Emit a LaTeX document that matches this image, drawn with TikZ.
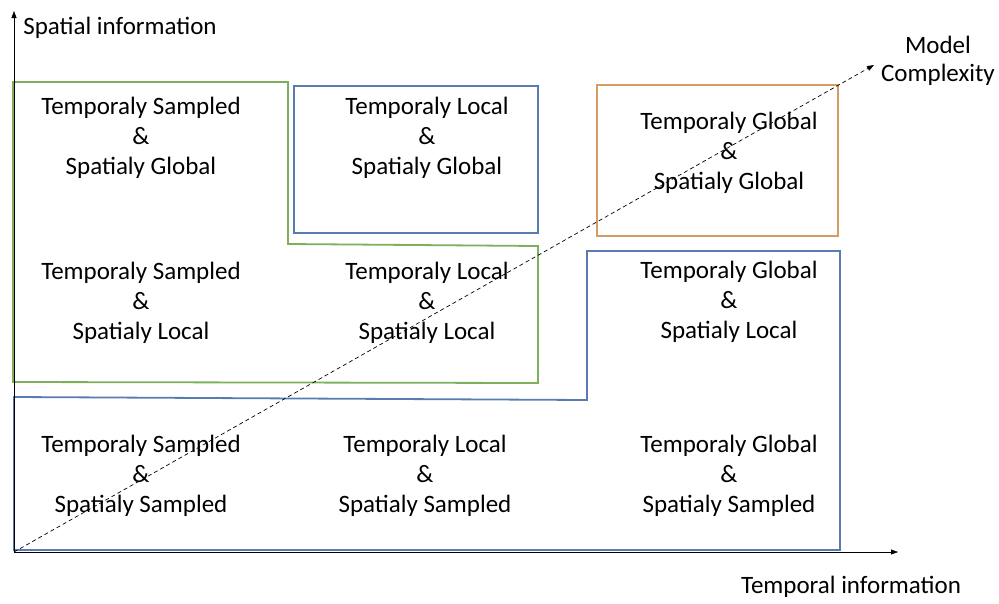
\documentclass[tikz,border=0pt]{standalone}
\usepackage{fontspec}
\setmainfont{Carlito}
\usetikzlibrary{arrows.meta}
\definecolor{zonegreen}{RGB}{125,176,92}
\definecolor{zoneblue}{RGB}{88,124,178}
\definecolor{zoneorange}{RGB}{214,156,100}
\begin{document}
\begin{tikzpicture}[x=1pt,y=-1pt,
    cell/.style ={align=center, font=\fontsize{25}{30}\selectfont, inner sep=0pt},
    axislabel/.style ={align=center, font=\fontsize{25}{28}\selectfont, inner sep=0pt},
    zone/.style ={line width=1.8pt, line join=miter}]
   \useasboundingbox (0,0) rectangle (999,603);

   % zones
   \draw[zone, zonegreen] (13,82) -- (288,82) -- (288,244) -- (538,246) -- (538,383) -- (13,382) -- cycle;
   \draw[zone, zoneblue] (294,86) rectangle (538,233);
   \draw[zone, zoneorange] (597,85) rectangle (838,236);
   \draw[zone, zoneblue] (14,397) -- (587,400) -- (587,251) -- (840,251) -- (840,550) -- (14,550) -- cycle;

   % cells
   \node[cell] (TS-SG) at (141,138) {Temporaly Sampled\\\&\\Spatialy Global};
   \node[cell] (TL-SG) at (427,138) {Temporaly Local\\\&\\Spatialy Global};
   \node[cell] (TG-SG) at (729,153) {Temporaly Global\\\&\\Spatialy Global};
   \node[cell] (TS-SL) at (141,303) {Temporaly Sampled\\\&\\Spatialy Local};
   \node[cell] (TL-SL) at (427,303) {Temporaly Local\\\&\\Spatialy Local};
   \node[cell] (TG-SL) at (729,302) {Temporaly Global\\\&\\Spatialy Local};
   \node[cell] (TS-SS) at (141,476) {Temporaly Sampled\\\&\\Spatialy Sampled};
   \node[cell] (TL-SS) at (425,476) {Temporaly Local\\\&\\Spatialy Sampled};
   \node[cell] (TG-SS) at (729,476) {Temporaly Global\\\&\\Spatialy Sampled};

   % axes
   \coordinate (origin) at (14,552);
   \coordinate (spatialtip) at (14,11);
   \coordinate (temporaltip) at (898,552);
   \coordinate (complexitytip) at (874,65);
   \node[axislabel] (spatial) at (120,28) {Spatial information};
   \node[axislabel] (temporal) at (851,587) {Temporal information};
   \node[axislabel] (complexity) at (938,61) {Model\\Complexity};

   \draw[-{Triangle[length=7pt,width=5pt]}] (origin) -- (spatialtip);
   \draw[-{Triangle[length=7pt,width=5pt]}] (origin) -- (temporaltip);
   \draw[dash pattern=on 4pt off 3pt, line width=0.7pt, -{Triangle[length=7pt,width=5pt]}] (origin) -- (complexitytip);
 \end{tikzpicture}
\end{document}
